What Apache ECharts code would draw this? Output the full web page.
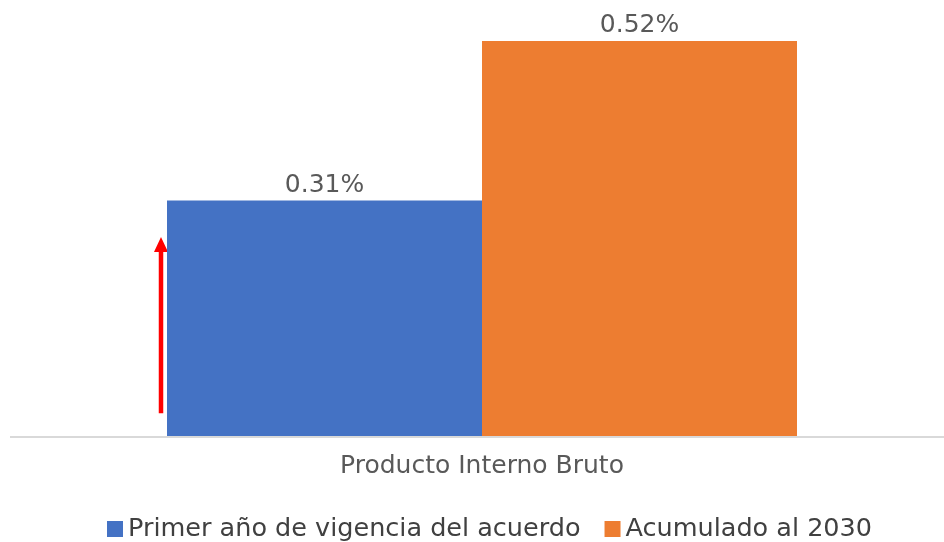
<!DOCTYPE html>
<html>
<head>
<meta charset="utf-8">
<script src="https://cdn.jsdelivr.net/npm/echarts@6/dist/echarts.min.js"></script>
<style>
  html, body { margin: 0; padding: 0; background: #fff; }
  #chart { width: 944px; height: 542px; }
</style>
</head>
<body>
<div id="chart"></div>
<script>
const categories = ["Producto Interno Bruto"];
const seriesNames = ["Primer año de vigencia del acuerdo", "Acumulado al 2030"];
const firstYear = [0.31];
const cumulative2030 = [0.52];
// red arrow beside the first bar, in value units
const arrowFrom = 0.03;
const arrowTo = 0.262;

const chart = echarts.init(document.getElementById("chart"));
const font = "DejaVu Sans, Liberation Sans, Arial, sans-serif";

const option = {
  animation: false,
  textStyle: { fontFamily: font },
  grid: { left: 20, right: 0, top: 41, bottom: 106 },
  legend: {
    bottom: -5,
    left: 102,
    itemWidth: 16,
    itemHeight: 16,
    itemGap: 24,
    icon: "rect",
    textStyle: { fontSize: 25.5, color: "#404040", fontFamily: font },
    data: seriesNames
  },
  xAxis: {
    type: "category",
    data: categories,
    axisLine: { show: false },
    axisTick: { show: false },
    axisLabel: { fontSize: 25, color: "#595959", margin: 18, fontFamily: font }
  },
  yAxis: {
    type: "value",
    min: 0,
    max: 0.52,
    show: false,
    splitLine: { show: false }
  },
  series: [
    {
      name: seriesNames[0],
      type: "bar",
      data: firstYear,
      barWidth: 315,
      barGap: "0%",
      itemStyle: { color: "#4472c4" },
      label: {
        show: true,
        position: "top",
        distance: 3,
        fontSize: 25,
        color: "#595959",
        fontFamily: font,
        formatter: p => p.value.toFixed(2) + "%"
      }
    },
    {
      name: seriesNames[1],
      type: "bar",
      data: cumulative2030,
      barWidth: 315,
      itemStyle: { color: "#ed7d31" },
      label: {
        show: true,
        position: "top",
        distance: 3,
        fontSize: 25,
        color: "#595959",
        fontFamily: font,
        formatter: p => p.value.toFixed(2) + "%"
      }
    }
  ]
};

chart.setOption(option);

// baseline across the full width, and the arrow just left of the blue bar
const center = chart.convertToPixel({ xAxisIndex: 0 }, categories[0]);
const yZero = chart.convertToPixel({ yAxisIndex: 0 }, 0);
const yBottom = chart.convertToPixel({ yAxisIndex: 0 }, arrowFrom);
const yTop = chart.convertToPixel({ yAxisIndex: 0 }, arrowTo);
const ax = center - 315 - 6;

chart.setOption({
  graphic: [
    {
      type: "line",
      z: 0,
      shape: { x1: 10, y1: yZero + 1, x2: 944, y2: yZero + 1 },
      style: { stroke: "#d9d9d9", lineWidth: 2 }
    },
    {
      type: "line",
      shape: { x1: ax, y1: yBottom, x2: ax, y2: yTop + 12 },
      style: { stroke: "#ff0000", lineWidth: 4.5 }
    },
    {
      type: "polygon",
      shape: { points: [[ax, yTop], [ax - 7, yTop + 15], [ax + 7, yTop + 15]] },
      style: { fill: "#ff0000" }
    }
  ]
});
</script>
</body>
</html>
